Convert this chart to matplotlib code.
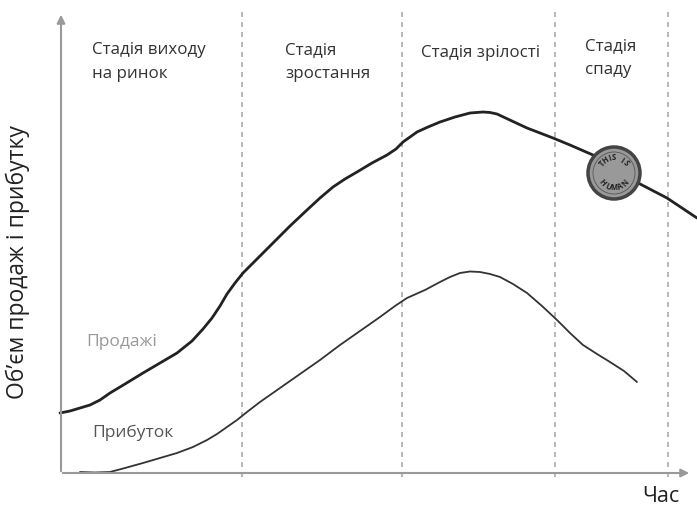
import numpy as np
import matplotlib.pyplot as plt
from matplotlib.patches import Circle

# Sales and profit curves over time (horizontal position, vertical level)
sales_x = [60, 70, 80, 90, 100, 110, 125, 143, 160, 177, 192, 203, 212, 220, 227,
           235, 243, 258, 273, 290, 307, 320, 333, 345, 357, 372, 387, 396, 403,
           410, 417, 428, 440, 455, 470, 483, 490, 497, 512, 527, 540, 553, 570,
           593, 615, 642, 667, 697]
sales_y = [413, 411, 408, 405, 400, 393, 384, 373, 363, 353, 341, 329, 318, 306, 294,
           283, 273, 258, 243, 226, 210, 198, 187, 179, 172, 163, 155, 149, 142,
           137, 132, 127, 122, 117, 113, 112, 112.5, 114, 121, 128, 133, 138, 145,
           155, 170, 185, 198, 218]
profit_x = [80, 95, 110, 125, 143, 160, 177, 193, 207, 217, 227, 237, 247, 260, 280,
            300, 320, 340, 360, 380, 395, 407, 425, 440, 450, 460, 470, 480, 490,
            500, 513, 527, 542, 557, 570, 583, 597, 610, 624, 637]
profit_y = [472, 472.5, 472, 468, 463, 458, 453, 447, 440, 434, 427, 420, 412, 402, 388,
            374, 360, 345, 331, 317, 306, 298, 290, 282, 277, 273, 271.5, 272, 274,
            277, 284, 293, 306, 320, 333, 345, 354, 362, 371, 382]

stage_bounds = [242, 402, 555, 668]
stage_labels = ["Стадія виходу\nна ринок", "Стадія\nзростання",
                "Стадія зрілості", "Стадія\nспаду"]

plt.rcParams['font.family'] = ['Open Sans', 'DejaVu Sans']

fig = plt.figure(figsize=(6.97, 5.14), dpi=100)
ax = fig.add_axes([0, 0, 1, 1])
ax.set_xlim(0, 697)
ax.set_ylim(514, 0)
ax.axis('off')

# axes with arrows
ax.annotate('', xy=(61, 12), xytext=(61, 474),
            arrowprops=dict(arrowstyle='-|>', color='#999999', lw=1.5, mutation_scale=12))
ax.annotate('', xy=(692, 473), xytext=(60, 473),
            arrowprops=dict(arrowstyle='-|>', color='#999999', lw=1.5, mutation_scale=12))

for x in stage_bounds:
    ax.plot([x, x], [12, 480], ls=(0, (3, 3)), color='#aaaaaa', lw=1.2)

ax.plot(sales_x, sales_y, color='#222222', lw=2.0, solid_capstyle='round',
        solid_joinstyle='round')
ax.plot(profit_x, profit_y, color='#333333', lw=1.3, solid_capstyle='round',
        solid_joinstyle='round')

txt = dict(fontsize=12.2, color='#333333', linespacing=1.7, va='top')
ax.text(92, 42, stage_labels[0], ha='left', **txt)
ax.text(285, 42, stage_labels[1], ha='left', **txt)
ax.text(421, 45, stage_labels[2], ha='left', **txt)
ax.text(585, 38, stage_labels[3], ha='left', **txt)

ax.text(86, 342, "Продажі", fontsize=12.5, color='#999999', va='center')
ax.text(92, 433, "Прибуток", fontsize=12.5, color='#555555', va='center')
ax.text(661, 497, "Час", fontsize=15.5, color='#222222', ha='center', va='center')
ax.text(18, 262, "Обʼєм продаж і прибутку", fontsize=16.5, color='#222222',
        rotation=90, ha='center', va='center')

# round stamp on the sales curve
cx, cy, r = 614, 173, 26
ax.add_patch(Circle((cx, cy), r, facecolor='#999999', edgecolor='#444444', lw=2.5, zorder=5))
ax.add_patch(Circle((cx, cy), r - 5, facecolor='none', edgecolor='#555555', lw=0.6, zorder=6))
for word, start, end, top in [("THIS IS", 140, 40, True), ("HUMAN", 220, 320, False)]:
    angs = np.linspace(start, end, len(word))
    for ch, a in zip(word, angs):
        t = np.deg2rad(a)
        rot = a - 90 if top else a + 90
        ax.text(cx + 15 * np.cos(t), cy - 15 * np.sin(t), ch, fontsize=5.5,
                fontweight='bold', color='#222222', rotation=rot,
                ha='center', va='center', zorder=7)

fig.savefig('out.png', dpi=100)
